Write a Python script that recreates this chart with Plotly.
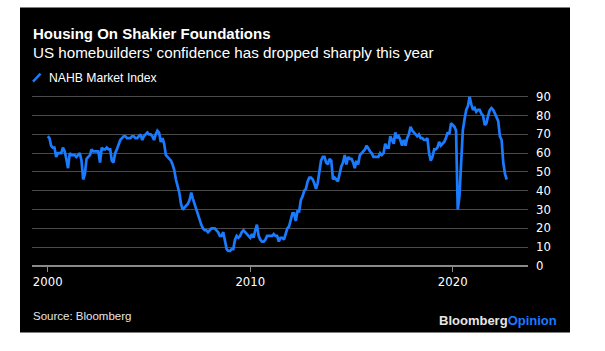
import plotly.graph_objects as go
import pandas as pd

# ---- data (NAHB Market Index, monthly, Jan 2000 - Sep 2022) ----
start_month = "2000-01-01"
nahb_by_year = {
    2000: [69, 68, 64, 63, 63, 58, 60, 60, 60, 63, 61, 57],
    2001: [52, 60, 59, 59, 59, 58, 59, 60, 56, 46, 49, 57],
    2002: [58, 59, 62, 61, 61, 61, 61, 55, 63, 62, 62, 63],
    2003: [62, 62, 56, 55, 60, 62, 65, 67, 68, 69, 69, 68],
    2004: [68, 68, 69, 69, 68, 68, 69, 70, 67, 69, 70, 71],
    2005: [70, 70, 69, 67, 70, 72, 71, 66, 68, 65, 59, 58],
    2006: [57, 56, 54, 51, 46, 42, 39, 33, 30, 31, 32, 33],
    2007: [35, 39, 36, 33, 30, 28, 24, 22, 20, 19, 19, 18],
    2008: [19, 20, 20, 20, 19, 18, 16, 16, 18, 14, 9, 8],
    2009: [8, 9, 9, 14, 16, 15, 16, 18, 19, 18, 17, 16],
    2010: [15, 17, 15, 19, 22, 16, 14, 13, 13, 14, 16, 16],
    2011: [16, 16, 17, 16, 16, 13, 15, 15, 14, 17, 20, 21],
    2012: [25, 28, 28, 24, 29, 29, 35, 37, 40, 41, 45, 47],
    2013: [47, 46, 44, 41, 44, 51, 56, 58, 58, 55, 54, 57],
    2014: [56, 46, 47, 46, 45, 49, 53, 55, 59, 54, 58, 57],
    2015: [57, 55, 52, 56, 54, 59, 60, 61, 62, 64, 62, 61],
    2016: [60, 58, 58, 58, 58, 60, 59, 60, 65, 63, 63, 69],
    2017: [67, 65, 71, 68, 69, 67, 64, 67, 64, 68, 70, 74],
    2018: [72, 71, 70, 69, 70, 68, 68, 67, 67, 68, 60, 56],
    2019: [58, 62, 62, 63, 66, 64, 65, 66, 68, 71, 70, 76],
    2020: [75, 74, 72, 30, 37, 58, 72, 78, 83, 85, 90, 86],
    2021: [83, 84, 82, 83, 83, 81, 80, 75, 76, 80, 83, 84],
    2022: [83, 81, 79, 77, 69, 67, 55, 49, 46],
}
values = [v for yr in sorted(nahb_by_year) for v in nahb_by_year[yr]]
dates = pd.date_range(start_month, periods=len(values), freq="MS")

y_ticks = [0, 10, 20, 30, 40, 50, 60, 70, 80, 90]
x_ticks = ["2000-01-01", "2010-01-01", "2020-01-01"]
x_tick_labels = ["2000", "2010", "2020"]

title = "Housing On Shakier Foundations"
subtitle = "US homebuilders' confidence has dropped sharply this year"
series_name = "NAHB Market Index"
source = "Source: Bloomberg"

BLUE = "#1a7bff"

# ---- layout geometry (pixels) ----
W, H = 605, 351
L, R = 32, 528          # plot left / right
T, B = 92.9, 265.7      # plot top / bottom


def px(x):
    return (x - L) / (R - L)


def py(y):
    return (B - y) / (B - T)


fig = go.Figure()
fig.add_trace(go.Scatter(
    x=dates, y=values, mode="lines", name=series_name,
    line=dict(color=BLUE, width=2.7), showlegend=False,
))

shapes = [
    dict(type="rect", xref="paper", yref="paper",
         x0=px(20), x1=px(570), y0=py(332), y1=py(7.5),
         fillcolor="black", line=dict(width=0), layer="below"),
    dict(type="line", xref="paper", yref="paper",
         x0=px(33), y0=py(81.5), x1=px(40.5), y1=py(73.5),
         line=dict(color=BLUE, width=2.5)),
]

annotations = [
    dict(text="<b>" + title + "</b>", x=px(31), y=py(33), xref="paper", yref="paper",
         xanchor="left", yanchor="middle", showarrow=False,
         font=dict(family="Liberation Sans", size=15, color="white")),
    dict(text=subtitle, x=px(31), y=py(52.5), xref="paper", yref="paper",
         xanchor="left", yanchor="middle", showarrow=False,
         font=dict(family="Liberation Sans", size=15.2, color="white")),
    dict(text=series_name, x=px(47), y=py(77.5), xref="paper", yref="paper",
         xanchor="left", yanchor="middle", showarrow=False,
         font=dict(family="Liberation Sans", size=12.2, color="white")),
    dict(text=source, x=px(31), y=py(316), xref="paper", yref="paper",
         xanchor="left", yanchor="middle", showarrow=False,
         font=dict(family="Liberation Sans", size=11.5, color="#e6e6e6")),
    dict(text="<b><span style='color:#e6e6e6'>Bloomberg</span>"
              "<span style='color:#1a7bff'>Opinion</span></b>",
         x=px(559), y=py(320), xref="paper", yref="paper",
         xanchor="right", yanchor="middle", showarrow=False,
         font=dict(family="Liberation Sans", size=13)),
]

fig.update_layout(
    width=W, height=H,
    margin=dict(l=L, r=W - R, t=T, b=H - B, pad=0),
    paper_bgcolor="white",
    plot_bgcolor="rgba(0,0,0,0)",
    shapes=shapes,
    annotations=annotations,
    xaxis=dict(
        type="date",
        range=["1999-03-23", "2023-09-20"],
        tickvals=x_ticks, ticktext=x_tick_labels,
        showgrid=False, zeroline=False, showline=False,
        ticks="outside", ticklen=5, tickwidth=1, tickcolor="#8a8a8a",
        tickfont=dict(family="DejaVu Sans", size=11.7, color="white"),
        fixedrange=True,
    ),
    yaxis=dict(
        range=[0, 92], side="right",
        tickvals=y_ticks,
        showgrid=True, gridcolor="#4a4a4a", gridwidth=1,
        zeroline=True, zerolinecolor="#8a8a8a", zerolinewidth=1.5,
        showline=False, ticks="",
        ticklabelstandoff=7,
        tickfont=dict(family="DejaVu Sans", size=11.7, color="white"),
        fixedrange=True,
    ),
)

fig.write_html("out.html")
